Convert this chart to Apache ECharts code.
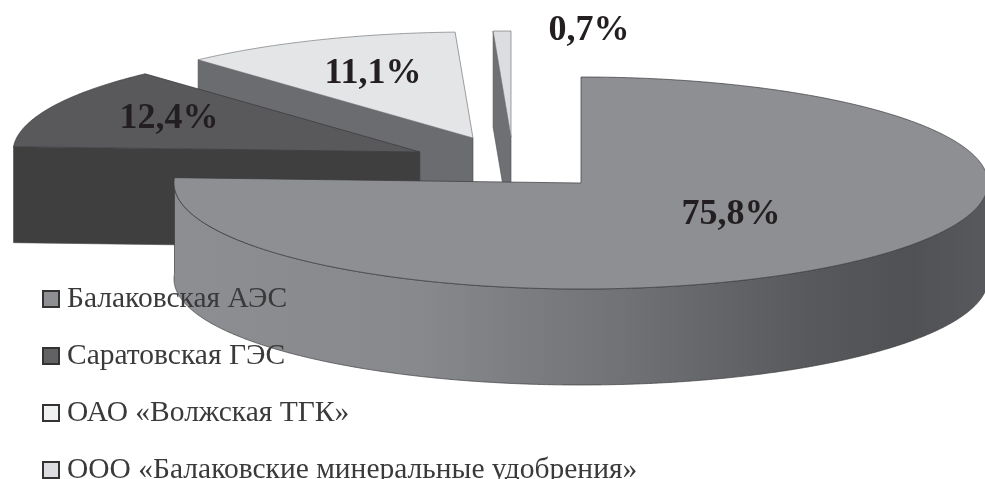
<!DOCTYPE html>
<html><head><meta charset="utf-8">
<style>html,body{margin:0;padding:0;background:#fff}#c{width:985px;height:479px}</style>
<script src="https://cdn.jsdelivr.net/npm/echarts@6/dist/echarts.min.js"></script>
</head><body><div id="c"></div>
<script>
const categories = ['Балаковская АЭС', 'Саратовская ГЭС', 'ОАО «Волжская ТГК»', 'ООО «Балаковские минеральные удобрения»'];
const shares = [75.8, 12.4, 11.1, 0.7];
const pctLabels = ['75,8%', '12,4%', '11,1%', '0,7%'];
const topColors = ['#8e8f93', '#59595c', '#e4e5e6', '#dcdde0'];
const cutColors = ['#8e8f93', '#3f3f40', '#6b6c70', '#6f7074'];
const legendColors = ['#8e8f93', '#626265', '#f0f1f1', '#dcdde0'];
const apexX = [581, 420, 473, 511];
const apexY = [183, 152, 138, 137];
const labelX = [731, 169, 373, 589];
const labelY = [215, 119, 74, 31];
const RX = 407, RY = 106, DEPTH = 96;

const total = shares.reduce((a, b) => a + b, 0);
const startAngle = shares.map((_, i) => shares.slice(0, i).reduce((a, b) => a + b, 0) / total * 2 * Math.PI);

function rim(i, ang) {
  return [apexX[i] + RX * Math.sin(ang), apexY[i] - RY * Math.cos(ang)];
}
function arc(i, a0, a1) {
  const n = Math.max(2, Math.ceil(Math.abs(a1 - a0) / 0.006));
  const pts = [];
  for (let k = 0; k <= n; k++) pts.push(rim(i, a0 + (a1 - a0) * k / n));
  return pts;
}
function renderSlice(i) {
  return function (params, api) {
    const value = api.value(0);
    const a0 = startAngle[i], a1 = a0 + value / total * 2 * Math.PI;
    const children = [];
    const apex = [apexX[i], apexY[i]];
    const edge = '#3a3a3c';
    if (i > 0) {
      const r = rim(i, a0);
      children.push({
        type: 'polygon',
        shape: { points: [r, apex, [apex[0], apex[1] + DEPTH], [r[0], r[1] + DEPTH]] },
        style: { fill: cutColors[i], stroke: '#4a4a4c', lineWidth: 0.6 }
      });
    }
    if (i === 0) {
      const top = arc(i, Math.PI / 2, a1);
      const bottom = top.slice().reverse().map(p => [p[0], p[1] + DEPTH]);
      children.push({
        type: 'polygon',
        shape: { points: top.concat(bottom) },
        style: {
          fill: new echarts.graphic.LinearGradient(0, 0, 1, 0, [
            { offset: 0, color: '#8d8e92' },
            { offset: 0.3, color: '#88898d' },
            { offset: 0.55, color: '#717276' },
            { offset: 0.78, color: '#58595c' },
            { offset: 0.9, color: '#505154' },
            { offset: 1, color: '#58595c' }
          ]),
          stroke: '#3f3f41', lineWidth: 0.7
        }
      });
    }
    const face = [apex].concat(arc(i, a0, a1));
    children.push({
      type: 'polygon',
      shape: { points: face },
      style: { fill: topColors[i], stroke: i >= 2 ? '#77787b' : edge, lineWidth: 0.7 }
    });
    children.push({
      type: 'text',
      style: {
        text: pctLabels[i], x: labelX[i], y: labelY[i],
        fill: '#231f20', font: 'bold 36px "Liberation Serif"',
        align: 'center', verticalAlign: 'middle'
      }
    });
    return { type: 'group', children };
  };
}

const chart = echarts.init(document.getElementById('c'));
chart.setOption({
  animation: false,
  backgroundColor: '#fff',
  legend: {
    orient: 'vertical', left: 42, top: 284, height: 400, padding: 0, z: 20,
    selectedMode: false,
    icon: 'rect', itemWidth: 16, itemHeight: 16, itemGap: 27,
    textStyle: { fontFamily: 'Liberation Serif', fontSize: 29.5, color: '#3a3a3a', padding: [0, 0, 0, 3] },
    itemStyle: { borderColor: '#333', borderWidth: 2 },
    data: categories.map((name, i) => ({ name, itemStyle: { color: legendColors[i], borderColor: '#333', borderWidth: 2 } }))
  },
  series: categories.map((name, i) => ({
    type: 'custom', name, coordinateSystem: 'none',
    z: 2 + (categories.length - i),
    itemStyle: { color: legendColors[i] },
    data: [[shares[i]]],
    renderItem: renderSlice(i),
    silent: true
  }))
});
</script></body></html>
